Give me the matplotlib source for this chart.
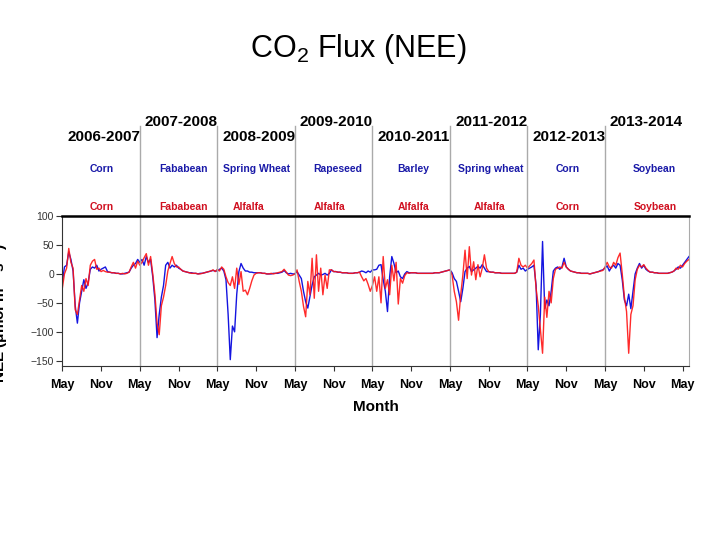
import numpy as np
import matplotlib.pyplot as plt

plt.rcParams['font.family'] = ['Liberation Sans', 'DejaVu Sans']

# NEE, one value every ~10 days starting May 2006
# blue = first field (rotation row 1), red = second field (rotation row 2)
nee_blue = [
    # 2006-2007
    -15, 12, 15, 38, 25, 5, -55, -85, -50, -30, -10, -25, -15, 8, 12, 10, 15, 5,
    8, 10, 12, 4, 3, 2, 2, 1, 1, 0, 0, 1, 2, 3, 10, 15, 18, 25,
    # 2007-2008
    20, 25, 15, 30, 20, 25, -5, -45, -110, -70, -40, -20, 15, 20, 10, 15, 12, 15,
    10, 8, 5, 4, 3, 2, 2, 1, 1, 0, 1, 1, 2, 3, 4, 5, 6, 5,
    # 2008-2009
    5, 8, 10, 5, -10, -70, -148, -90, -100, -35, 4, 18, 10, 5, 5, 3, 3, 2,
    2, 2, 2, 1, 1, 0, 0, 0, 1, 1, 1, 2, 3, 6, 2, 0, 1, 0,
    # 2009-2010
    0, 4, -2, -8, -30, -48, -59, -39, -19, -5, -2, 1, -2, -1, 1, -2, 1, 7,
    4, 4, 3, 3, 2, 2, 2, 1, 1, 1, 2, 2, 3, 5, 4, 2, 5, 3,
    # 2010-2011
    7, 7, 8, 15, 16, -10, -30, -65, -5, 30, 18, 2, 5, -5, -8, 0, 4, 2,
    2, 2, 2, 1, 1, 1, 1, 1, 1, 1, 1, 2, 2, 2, 3, 4, 5, 6,
    # 2011-2012
    7, 2, -8, -13, -30, -48, -25, 4, 10, 13, 4, 7, 10, 13, 10, 16, 10, 4,
    4, 3, 3, 2, 2, 2, 1, 1, 1, 1, 1, 1, 1, 3, 15, 8, 10, 5,
    # 2012-2013
    8, 10, 12, 15, -20, -131, -70, 56, -60, -45, -55, -30, 5, 10, 12, 8, 12, 27,
    12, 8, 5, 4, 3, 2, 2, 1, 1, 1, 1, 0, 1, 2, 3, 4, 6, 7,
    # 2013-2014
    10, 14, 5, 12, 15, 10, 18, 15, -10, -45, -55, -35, -60, -30, 0, 10, 18, 10,
    15, 8, 5, 3, 3, 2, 2, 1, 1, 1, 1, 1, 2, 3, 5, 8, 12, 10,
    # May-June 2014
    15, 20, 25, 30,
]

nee_red = [
    # 2006-2007
    -25, 0, 10, 44, 20, 10, -62, -70, -45, -20, -30, -8, -20, 15, 22, 25, 8, 10,
    4, 6, 4, 3, 3, 2, 2, 1, 1, 0, 1, 0, 1, 3, 12, 20, 10, 22,
    # 2007-2008
    15, 20, 28, 35, 15, 30, 0, -35, -85, -105, -55, -40, -20, 5, 18, 30, 18, 12,
    12, 8, 5, 4, 3, 2, 1, 1, 1, 0, 0, 1, 2, 3, 4, 5, 7, 4,
    # 2008-2009
    8, 5, 12, 8, -5, -15, -20, -5, -25, 10, -18, 4, -30, -28, -36, -25, -12, -2,
    1, 2, 2, 1, 1, 0, 0, 1, 0, 1, 2, 3, 4, 8, 3, -2, -3, -2,
    # 2009-2010
    0, 7, -13, -30, -56, -74, -13, -36, 27, -42, 33, -30, 10, -36, -2, -25, 7, 7,
    4, 4, 3, 3, 2, 2, 2, 1, 1, 1, 2, 2, 3, -5, -12, -8, -18, -30,
    # 2010-2011
    -20, -5, -30, -5, -50, 30, -25, -10, -36, 15, -12, 20, -52, -8, -16, -3, 2, 1,
    2, 2, 2, 1, 1, 1, 1, 1, 1, 1, 1, 2, 2, 2, 3, 4, 5, 6,
    # 2011-2012
    7, -2, -30, -48, -80, -36, -2, 41, -8, 47, -2, 21, -10, 16, -5, 10, 33, 10,
    4, 3, 3, 2, 2, 2, 1, 1, 1, 1, 1, 1, 1, 3, 27, 15, 12, 15,
    # 2012-2013
    10, 14, 18, 24, -25, -55, -95, -137, -40, -75, -30, -50, -8, 8, 10, 12, 10, 20,
    12, 8, 5, 4, 3, 2, 2, 1, 1, 1, 1, 0, 1, 2, 3, 4, 5, 6,
    # 2013-2014
    12, 20, 12, 10, 20, 15, 28, 36, 0, -40, -65, -137, -70, -55, -10, 8, 15, 12,
    16, 10, 6, 3, 3, 2, 2, 1, 1, 1, 1, 1, 2, 3, 5, 10, 8, 15,
    # May-June 2014
    12, 18, 22, 25,
]

seasons = ['2006-2007', '2007-2008', '2008-2009', '2009-2010',
           '2010-2011', '2011-2012', '2012-2013', '2013-2014']
crops_blue = ['Corn', 'Fababean', 'Spring Wheat', 'Rapeseed',
              'Barley', 'Spring wheat', 'Corn', 'Soybean']
crops_red = ['Corn', 'Fababean', 'Alfalfa', 'Alfalfa',
             'Alfalfa', 'Alfalfa', 'Corn', 'Soybean']
month_labels = ['May', 'Nov'] * 8 + ['May']

# label x positions in months since May 2006 (layout only)
blue_x = [6.1, 18.8, 30.1, 42.7, 54.3, 66.3, 78.2, 91.7]
red_x = [6.1, 18.8, 28.8, 41.3, 54.3, 66.2, 78.2, 91.8]

months = np.arange(len(nee_blue)) / 3.0

fig = plt.figure(figsize=(7.2, 5.4), dpi=100)
ax = fig.add_axes([62.3 / 720, 1 - 366 / 540, (689 - 62.3) / 720, 150 / 540])

ax.plot(months, nee_blue, color='#1414e0', lw=1)
ax.plot(months, nee_red, color='#ff1414', lw=1, alpha=0.9)

ax.set_xlim(0, 97)
ax.set_ylim(-159, 100)
ax.set_yticks([100, 50, 0, -50, -100, -150])
ax.set_xticks(np.arange(0, 97, 6))
ax.set_xticklabels(month_labels, fontweight='bold', fontsize=9)
ax.tick_params(axis='y', length=4, width=0.8, labelsize=7.5, pad=2, colors='#333333')
ax.tick_params(axis='x', length=3.5, width=0.8, pad=6, colors='#333333')
ax.tick_params(axis='x', labelcolor='black')
ax.set_xlabel('Month', fontsize=11, fontweight='bold', labelpad=6)

ax.spines['top'].set_linewidth(1.8)
ax.spines['top'].set_color('black')
ax.spines['right'].set_color('#aaaaaa')
ax.spines['left'].set_color('#333333')
ax.spines['bottom'].set_color('#333333')

# season separators reaching up into the header
for m in range(12, 96, 12):
    ax.axvline(m, ymin=0, ymax=1.6, color='#aaaaaa', lw=1, clip_on=False)

trans = ax.get_xaxis_transform()
for i, s in enumerate(seasons):
    yy = 1.6 if i % 2 else 1.5
    ax.text(12 * i + 6.4, yy, s, transform=trans, ha='center', va='baseline',
            fontsize=11, fontweight='bold')
for x, c in zip(blue_x, crops_blue):
    ax.text(x, 1.313, c, transform=trans, ha='center', va='center',
            fontsize=7.5, fontweight='bold', color='#1a1aa8')
for x, c in zip(red_x, crops_red):
    ax.text(x, 1.063, c, transform=trans, ha='center', va='center',
            fontsize=7.5, fontweight='bold', color='#d01020')

fig.text(0.497, 1 - 57 / 540, r'CO$_\mathregular{2}$ Flux (NEE)', fontsize=22,
         ha='center', va='baseline')
fig.text(11 / 720, 1 - 383 / 540,
         r'NEE ($\mathregular{\mu}$mol m$^\mathregular{-2}$ s$^\mathregular{-1}$)',
         rotation=90, ha='right', va='bottom', fontsize=11, fontweight='bold')

fig.savefig('out.png', dpi=100)
